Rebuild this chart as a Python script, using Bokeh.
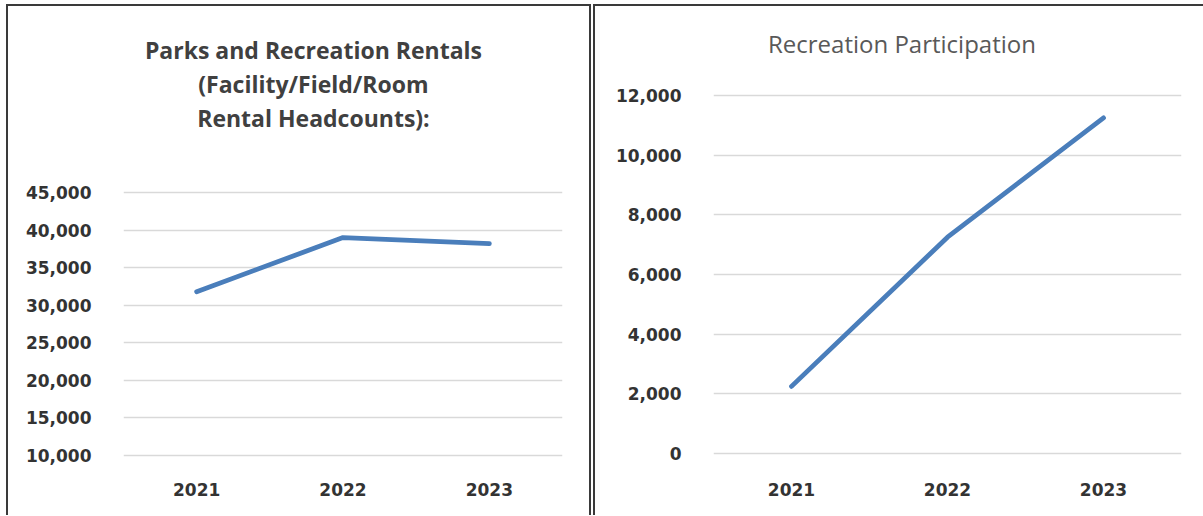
from bokeh.plotting import figure
from bokeh.layouts import row
from bokeh.models import FactorRange, Range1d, Label, NumeralTickFormatter, FixedTicker
from bokeh.embed import file_html
from bokeh.resources import INLINE

# ---- data ----
years = ["2021", "2022", "2023"]
rentals = [31800, 39000, 38200]
participation = [2250, 7250, 11250]
rental_ticks = [10000, 15000, 20000, 25000, 30000, 35000, 40000, 45000]
participation_ticks = [0, 2000, 4000, 6000, 8000, 10000, 12000]
left_title_lines = ["Parks and Recreation Rentals", "(Facility/Field/Room", "Rental Headcounts):"]
right_title = "Recreation Participation"

LINE_COLOR = "#4a7ebb"
GRID_COLOR = "#d9d9d9"
TICK_COLOR = "#333333"
TICK_FONT = "DejaVu Sans"
TITLE_FONT = "Open Sans"
BORDER = "#3a3a3a"

# frame spans the full panel height so titles can live inside it
LEFT_YRANGE = (9734, 70019)
RIGHT_YRANGE = (-134, 15050)


def style_axes(p, ticks):
    p.yaxis.ticker = FixedTicker(ticks=ticks)
    p.yaxis.formatter = NumeralTickFormatter(format="0,0")
    for ax in (p.xaxis[0], p.yaxis[0]):
        ax.axis_line_color = None
        ax.major_tick_line_color = None
        ax.minor_tick_line_color = None
        ax.major_tick_out = 0
        ax.major_tick_in = 0
        ax.major_label_text_font = TICK_FONT
        ax.major_label_text_font_style = "bold"
        ax.major_label_text_font_size = "17px"
        ax.major_label_text_color = TICK_COLOR
    p.yaxis.major_label_standoff = 32
    p.xaxis.major_label_standoff = 25
    p.xgrid.grid_line_color = None
    p.ygrid.grid_line_color = GRID_COLOR
    p.ygrid.grid_line_width = 1.3
    p.outline_line_color = None
    p.border_fill_alpha = 0
    p.background_fill_color = None


# ---- left panel ----
p1 = figure(width=585, height=511, output_backend="svg", toolbar_location=None, title=None,
            x_range=FactorRange(*years, range_padding=0),
            y_range=Range1d(*LEFT_YRANGE),
            min_border_left=117, min_border_right=29,
            min_border_top=0, min_border_bottom=58,
            styles={"box-shadow": f"inset 2px 2px 0 {BORDER}, inset -2px 0 0 {BORDER}",
                    "background": "white"})
style_axes(p1, rental_ticks)
p1.line(x=years, y=rentals, line_width=4.8, line_color=LINE_COLOR, line_cap="round", line_join="round")

left_title_y = [63898, 59439, 54981]
for txt, yb in zip(left_title_lines, left_title_y):
    p1.add_layout(Label(x=1.298, y=yb, text=txt,
                        text_align="center", text_baseline="alphabetic",
                        text_font=TITLE_FONT, text_font_style="bold",
                        text_font_size="23px", text_color="#404040"))

# ---- right panel ----
p2 = figure(width=610, height=511, output_backend="svg", toolbar_location=None, title=None,
            x_range=FactorRange(*years, range_padding=0),
            y_range=Range1d(*RIGHT_YRANGE),
            min_border_left=120, min_border_right=22,
            min_border_top=0, min_border_bottom=58,
            margin=(0, 0, 0, 2),
            styles={"box-shadow": f"inset 2px 2px 0 {BORDER}",
                    "background": "white"})
style_axes(p2, participation_ticks)
p2.line(x=years, y=participation, line_width=4.8, line_color=LINE_COLOR, line_cap="round", line_join="round")
p2.add_layout(Label(x=1.208, y=13744, text=right_title,
                    text_align="center", text_baseline="alphabetic",
                    text_font=TITLE_FONT, text_font_size="24px", text_color="#595959"))

layout = row(p1, p2, margin=(4, 0, 0, 6))

open("out.html", "w").write(file_html(layout, INLINE))
